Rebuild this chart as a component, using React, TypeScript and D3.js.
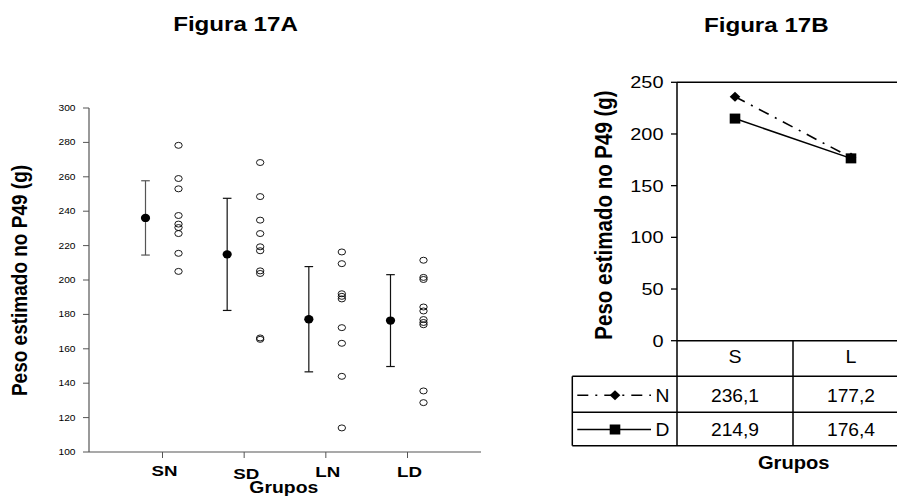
import React, { useEffect } from "react";
import * as d3 from "d3";

// ---------- Figura 17A data ----------
const groupsA = ["SN", "SD", "LN", "LD"];
const meansA = [236.1, 214.9, 177.2, 176.4];
const sdA = [21.6, 32.6, 30.6, 26.7];
const pointsSN = [278.3, 259, 253, 237.5, 232.5, 230.5, 227, 215.5, 205];
const pointsSD = [268.3, 248.5, 234.8, 227, 219.3, 217, 205.3, 203.8, 166.3, 165.5];
const pointsLN = [216.3, 209.5, 192, 190.5, 189, 172.3, 163.2, 144, 114];
const pointsLD = [211.5, 201.5, 200.3, 184.3, 182, 177, 175.3, 174, 135.5, 128.7];
const pointsA = [pointsSN, pointsSD, pointsLN, pointsLD];
const ticksA = [100, 120, 140, 160, 180, 200, 220, 240, 260, 280, 300];

// ---------- Figura 17B data ----------
const groupsB = ["S", "L"];
const seriesNames = ["N", "D"];
const valuesN = [236.1, 177.2];
const valuesD = [214.9, 176.4];
const labelsN = ["236,1", "177,2"];
const labelsD = ["214,9", "176,4"];
const ticksB = [0, 50, 100, 150, 200, 250];

const FONT = "Liberation Sans, Arial, Helvetica, sans-serif";

function T(props: {
  x: number; y: number; size: number; bold?: boolean; anchor?: string;
  sx?: number; rot?: number; children: React.ReactNode; fill?: string;
}) {
  const { x, y, size, bold, anchor = "middle", sx = 1.15, rot = 0, children, fill = "#000" } = props;
  return (
    <text
      transform={`translate(${x},${y}) scale(${sx},1) rotate(${rot})`}
      fontFamily={FONT}
      fontSize={size}
      fontWeight={bold ? "bold" : "normal"}
      textAnchor={anchor}
      fill={fill}
    >
      {children}
    </text>
  );
}

export default function App() {
  useEffect(() => {
    document.body.style.margin = "0";
  }, []);

  // Left chart scales
  const xA = d3.scalePoint<string>().domain(groupsA).range([89, 481]).padding(0.9);
  const yA = d3.scaleLinear().domain([100, 300]).range([452, 108]);
  const axisColA = "#555";

  // Right chart scales
  const xB = d3.scaleBand<string>().domain(groupsB).range([677, 909]).paddingInner(0).paddingOuter(0);
  const yB = d3.scaleLinear().domain([0, 250]).range([340.7, 82.3]);
  const bw = xB.bandwidth();
  const cx = (g: string) => (xB(g) as number) + bw / 2;

  const lineGen = d3
    .line<number>()
    .x((_, i) => cx(groupsB[i]))
    .y((v) => yB(v));

  const rowTop = 340.7;
  const rowH1 = 376.3;
  const rowH2 = 412.3;
  const rowH3 = 445.7;
  const legLeft = 572.3;
  const right = 909;

  const diamond = (x: number, y: number) =>
    `M${x},${y - 5} L${x + 5.3},${y} L${x},${y + 5} L${x - 5.3},${y} Z`;

  return (
    <svg width={897} height={503} style={{ position: "absolute", left: 0, top: 0, display: "block" }}>
      <rect x={0} y={0} width={897} height={503} fill="#fff" />

      {/* ================= Figura 17A ================= */}
      <T x={235.5} y={31} size={21} bold>Figura 17A</T>

      {/* y axis */}
      <line x1={89} x2={89} y1={yA(300)} y2={yA(100)} stroke={axisColA} strokeWidth={1.2} />
      {ticksA.map((t) => (
        <g key={"ta" + t}>
          <line x1={83} x2={89} y1={yA(t)} y2={yA(t)} stroke={axisColA} strokeWidth={1} />
          <T x={75.5} y={yA(t) + 3} size={8.5} anchor="end" sx={1.2}>{t}</T>
        </g>
      ))}
      {/* x axis */}
      <line x1={89} x2={481} y1={yA(100)} y2={yA(100)} stroke={axisColA} strokeWidth={1.2} />
      {groupsA.map((g, i) => {
        const x = xA(g) as number;
        const dy = [475.7, 479, 477.3, 477.3][i];
        return (
          <g key={"xa" + g}>
            <line x1={x} x2={x} y1={yA(100)} y2={yA(100) + 6} stroke={axisColA} strokeWidth={1} />
            <T x={x + 2} y={dy} size={15} bold sx={1.25}>{g}</T>
          </g>
        );
      })}
      <T x={283.8} y={492.7} size={17} bold sx={1.14}>Grupos</T>
      <T x={26.5} y={280.5} size={19} bold rot={-90}>Peso estimado no P49 (g)</T>

      {/* mean ± sd */}
      {groupsA.map((g, i) => {
        const x = (xA(g) as number) - 17;
        const top = yA(meansA[i] + sdA[i]);
        const bot = yA(meansA[i] - sdA[i]);
        const col = i === 0 ? "#555" : "#111";
        return (
          <g key={"m" + g}>
            <line x1={x} x2={x} y1={top} y2={bot} stroke={col} strokeWidth={1.2} />
            <line x1={x - 4.3} x2={x + 4.3} y1={top} y2={top} stroke={col} strokeWidth={1.2} />
            <line x1={x - 4.3} x2={x + 4.3} y1={bot} y2={bot} stroke={col} strokeWidth={1.2} />
            <ellipse cx={x} cy={yA(meansA[i])} rx={4.6} ry={4.2} fill="#000" />
          </g>
        );
      })}
      {/* individual points */}
      {groupsA.map((g, i) =>
        pointsA[i].map((v, j) => (
          <ellipse
            key={"p" + g + j}
            cx={(xA(g) as number) + 16}
            cy={yA(v)}
            rx={3.7}
            ry={3.0}
            fill="none"
            stroke="#000"
            strokeWidth={0.9}
          />
        ))
      )}

      {/* ================= Figura 17B ================= */}
      <T x={766.3} y={32} size={21} bold>Figura 17B</T>

      {/* plot box */}
      <line x1={677} x2={right} y1={yB(250)} y2={yB(250)} stroke="#000" strokeWidth={1.5} />
      <line x1={677} x2={677} y1={yB(250)} y2={rowH3} stroke="#000" strokeWidth={1.5} />
      <line x1={677} x2={right} y1={yB(0)} y2={yB(0)} stroke="#000" strokeWidth={1.5} />
      {ticksB.map((t) => (
        <g key={"tb" + t}>
          <line x1={671} x2={677} y1={yB(t)} y2={yB(t)} stroke="#000" strokeWidth={1.3} />
          <T x={663.5} y={yB(t) + 6} size={17} anchor="end" sx={1.17}>{t}</T>
        </g>
      ))}
      <T x={611.5} y={215} size={20.5} bold rot={-90}>Peso estimado no P49 (g)</T>

      {/* lines */}
      <path d={lineGen(valuesD) || ""} fill="none" stroke="#000" strokeWidth={1.5} />
      <path d={lineGen(valuesN) || ""} fill="none" stroke="#000" strokeWidth={1.6} strokeDasharray="11,7,2,7" />
      {valuesD.map((v, i) => (
        <rect key={"sq" + i} x={cx(groupsB[i]) - 5.3} y={yB(v) - 5} width={10.6} height={10} fill="#000" />
      ))}
      {valuesN.map((v, i) => (
        <path key={"dm" + i} d={diamond(cx(groupsB[i]), yB(v))} fill="#000" />
      ))}

      {/* table */}
      <line x1={legLeft} x2={right} y1={rowH1} y2={rowH1} stroke="#000" strokeWidth={1.5} />
      <line x1={legLeft} x2={right} y1={rowH2} y2={rowH2} stroke="#000" strokeWidth={1.5} />
      <line x1={legLeft} x2={right} y1={rowH3} y2={rowH3} stroke="#000" strokeWidth={1.5} />
      <line x1={legLeft} x2={legLeft} y1={rowH1} y2={rowH3} stroke="#000" strokeWidth={1.5} />
      <line x1={(xB("L") as number)} x2={(xB("L") as number)} y1={rowTop} y2={rowH3} stroke="#000" strokeWidth={1.5} />
      {groupsB.map((g) => (
        <T key={"hb" + g} x={cx(g)} y={363.3} size={17.5} sx={1.12}>{g}</T>
      ))}
      {labelsN.map((l, i) => (
        <T key={"ln" + i} x={cx(groupsB[i])} y={401.5} size={17.5} sx={1.1}>{l}</T>
      ))}
      {labelsD.map((l, i) => (
        <T key={"ld" + i} x={cx(groupsB[i])} y={436} size={17.5} sx={1.1}>{l}</T>
      ))}
      {/* legend cells */}
      <line x1={577.3} x2={651} y1={(rowH1 + rowH2) / 2 + 1} y2={(rowH1 + rowH2) / 2 + 1} stroke="#000" strokeWidth={1.5} strokeDasharray="11,7,2,7" />
      <path d={diamond(615, (rowH1 + rowH2) / 2 + 1)} fill="#000" />
      <T x={662.5} y={401.5} size={17.5} sx={1.1}>{seriesNames[0]}</T>
      <line x1={577.3} x2={651} y1={(rowH2 + rowH3) / 2 + 0.5} y2={(rowH2 + rowH3) / 2 + 0.5} stroke="#000" strokeWidth={1.3} />
      <rect x={615 - 5.3} y={(rowH2 + rowH3) / 2 + 0.5 - 5} width={10.6} height={10} fill="#000" />
      <T x={662.5} y={436} size={17.5} sx={1.1}>{seriesNames[1]}</T>

      <T x={793.7} y={469.3} size={17.5} bold sx={1.15}>Grupos</T>
    </svg>
  );
}
